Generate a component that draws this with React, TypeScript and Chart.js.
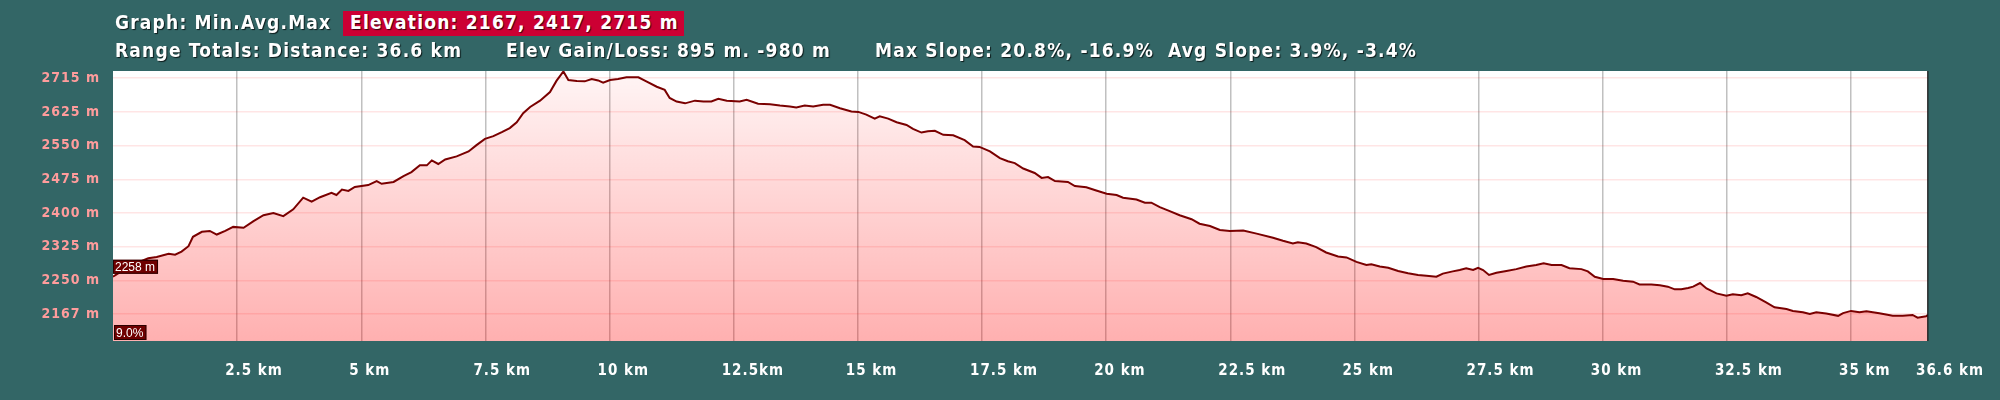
import React, { useEffect, useRef } from 'react';
import { Chart, registerables } from 'chart.js';

Chart.register(...registerables);

const distanceKm = [
  0.0, 0.34, 0.71, 0.88, 1.12, 1.25, 1.38, 1.52, 1.61, 1.79, 1.95, 2.09, 2.26, 2.42, 2.63, 2.83, 3.03, 3.23, 3.43, 3.63,
  3.83, 4.0, 4.17, 4.4, 4.5, 4.61, 4.74, 4.87, 5.14, 5.31, 5.41, 5.65, 5.85, 6.01, 6.18, 6.32, 6.42, 6.55, 6.69, 6.92,
  7.16, 7.32, 7.49, 7.66, 7.83, 7.99, 8.13, 8.26, 8.4, 8.6, 8.8, 8.93, 9.07,
  9.17, 9.34, 9.5, 9.64, 9.77, 9.87, 10.01, 10.17, 10.34, 10.58, 10.74, 10.95, 11.11, 11.21, 11.35, 11.52, 11.72, 11.89,
  12.05, 12.19, 12.36, 12.62, 12.76, 12.99, 13.23, 13.43, 13.63, 13.76, 13.93, 14.1, 14.3, 14.44, 14.64, 14.87, 15.01,
  15.17, 15.34, 15.44, 15.61, 15.78, 15.98, 16.11, 16.28, 16.41, 16.55, 16.72, 16.92, 17.15, 17.32, 17.45, 17.66, 17.86,
  18.02, 18.16, 18.33, 18.56, 18.7, 18.83, 18.97, 19.23, 19.37, 19.6, 19.8, 20.01, 20.21, 20.34, 20.61, 20.78, 20.91,
  21.08, 21.28, 21.48, 21.72, 21.88, 22.09, 22.29, 22.49, 22.76, 23.03, 23.36, 23.56, 23.76, 23.86, 24.03, 24.23, 24.43,
  24.67, 24.84, 25.04, 25.24, 25.34, 25.51, 25.68, 25.88, 26.08, 26.28, 26.45, 26.65, 26.78, 26.98, 27.12, 27.25, 27.39,
  27.49, 27.59, 27.71, 27.86, 28.06, 28.26, 28.46, 28.66, 28.81, 28.97, 29.17, 29.33, 29.57, 29.7, 29.84, 30.01, 30.21,
  30.41, 30.61, 30.74, 30.98, 31.15, 31.31, 31.45, 31.58, 31.72, 31.82, 31.96, 32.09, 32.29, 32.49, 32.62, 32.79, 32.92,
  33.09, 33.29, 33.46, 33.7, 33.83, 34.03, 34.17, 34.3, 34.5, 34.74, 34.84, 35.0, 35.17, 35.31, 35.57, 35.84, 36.04,
  36.24, 36.34, 36.51, 36.55,
];

const elevationM = [
  2258, 2282, 2299, 2302, 2309, 2307, 2314, 2326, 2347, 2358, 2360, 2352, 2360, 2369, 2367, 2382, 2395, 2400, 2393, 2408,
  2434, 2425, 2435, 2445, 2440, 2452, 2449, 2458, 2462, 2471, 2465, 2469, 2482, 2491, 2506, 2506, 2517, 2509, 2519, 2526,
  2537, 2551, 2565, 2571, 2580, 2589, 2602, 2622, 2636, 2650, 2669, 2694, 2715,
  2696, 2694, 2693, 2698, 2695, 2690, 2696, 2698, 2702, 2702, 2693, 2681, 2674, 2656, 2648, 2644, 2650, 2648,
  2648, 2654, 2650, 2648, 2652, 2643, 2642, 2639, 2637, 2635, 2639, 2637, 2641, 2641, 2633, 2626, 2625,
  2619, 2610, 2615, 2610, 2602, 2596, 2587, 2579, 2582, 2583, 2574, 2573, 2562, 2548, 2547, 2537, 2522,
  2515, 2511, 2499, 2489, 2478, 2480, 2471, 2469, 2460, 2457, 2450, 2443, 2440, 2434, 2430, 2423, 2423,
  2413, 2404, 2395, 2386, 2376, 2371, 2362, 2360, 2361, 2354, 2345, 2338, 2332, 2335, 2332, 2324, 2312,
  2303, 2301, 2291, 2284, 2286, 2281, 2278, 2271, 2266, 2262, 2260, 2258, 2265, 2270, 2273, 2277, 2273,
  2278, 2273, 2262, 2267, 2271, 2275, 2281, 2284, 2288, 2284, 2284, 2277, 2275, 2270, 2258, 2253, 2253,
  2249, 2247, 2241, 2241, 2239, 2236, 2230, 2230, 2233, 2236, 2244, 2232, 2221, 2216, 2219, 2217, 2221,
  2213, 2201, 2190, 2186, 2182, 2179, 2175, 2179, 2176, 2171, 2177, 2182, 2179, 2181, 2177, 2171, 2171,
  2173, 2167, 2170, 2173,
];

const xTickValues = [2.5, 5, 7.5, 10, 12.5, 15, 17.5, 20, 22.5, 25, 27.5, 30, 32.5, 35, 36.55];
const xTickLabels = [
  '2.5 km', '5 km', '7.5 km', '10 km', '12.5km', '15 km', '17.5 km', '20 km', '22.5 km', '25 km',
  '27.5 km', '30 km', '32.5 km', '35 km', '36.6 km',
];
const yTickValues = [2175, 2250, 2325, 2400, 2475, 2550, 2625, 2700];
const yTickLabels = ['2167 m', '2250 m', '2325 m', '2400 m', '2475 m', '2550 m', '2625 m', '2715 m'];

const headerTitle = 'Graph: Min.Avg.Max';
const headerBadge = 'Elevation: 2167, 2417, 2715 m';
const headerStats = [
  'Range Totals: Distance: 36.6 km',
  'Elev Gain/Loss: 895 m. -980 m',
  'Max Slope: 20.8%, -16.9%',
  'Avg Slope: 3.9%, -3.4%',
];
const startLabel = '2258 m';
const slopeLabel = '9.0%';

const BG = '#336666';
const FONT = '"DejaVu Sans Condensed", "DejaVu Sans", sans-serif';

const decorPlugin = {
  id: 'decor',
  beforeDraw(chart: any) {
    const { ctx, chartArea: a, width, height } = chart;
    ctx.save();
    ctx.fillStyle = BG;
    ctx.fillRect(0, 0, width, height);
    ctx.fillStyle = '#ffffff';
    ctx.fillRect(a.left, a.top, a.right - a.left, a.bottom - a.top);
    ctx.restore();
    ctx.letterSpacing = '1px';
  },
  afterDraw(chart: any) {
    const { ctx, chartArea: a, scales } = chart;
    ctx.save();
    ctx.letterSpacing = '0px';
    ctx.fillStyle = 'rgba(25,25,25,0.85)';
    ctx.fillRect(a.right - 1, a.top, 1.5, a.bottom - a.top);

    ctx.font = '12px "Liberation Sans", Arial, sans-serif';
    ctx.textBaseline = 'middle';
    ctx.textAlign = 'left';
    const box = (text: string, x: number, y: number, h: number) => {
      const w = ctx.measureText(text).width + 5;
      ctx.fillStyle = '#6e0000';
      ctx.fillRect(x, y, w, h);
      ctx.strokeStyle = '#2a0000';
      ctx.lineWidth = 1;
      ctx.strokeRect(x + 0.5, y + 0.5, w - 1, h - 1);
      ctx.fillStyle = '#ffffff';
      ctx.fillText(text, x + 2, y + h / 2 + 1);
    };
    const y0 = scales.y.getPixelForValue(elevationM[0]);
    box(startLabel, a.left, y0 - 17, 14);
    box(slopeLabel, a.left + 1, a.bottom - 16, 15);
    ctx.restore();
  },
};

export default function App() {
  const ref = useRef<HTMLCanvasElement>(null);

  useEffect(() => {
    document.body.style.margin = '0';
    const points = distanceKm.map((d, i) => ({ x: d, y: elevationM[i] }));
    const chart = new Chart(ref.current as HTMLCanvasElement, {
      type: 'line',
      data: {
        datasets: [
          {
            data: points,
            borderColor: '#7a0000',
            borderWidth: 2,
            pointRadius: 0,
            tension: 0,
            fill: 'start',
            backgroundColor: (c: any) => {
              const ch = c.chart;
              const a = ch.chartArea;
              if (!a) return 'rgba(255,0,0,0.2)';
              const g = ch.ctx.createLinearGradient(0, a.top, 0, a.bottom);
              g.addColorStop(0, 'rgba(255,0,0,0.04)');
              g.addColorStop(1, 'rgba(255,0,0,0.31)');
              return g;
            },
          },
        ],
      },
      options: {
        animation: false,
        responsive: false,
        devicePixelRatio: 1,
        layout: { padding: { top: 71, right: 72, bottom: 0, left: 0 } },
        plugins: { legend: { display: false }, tooltip: { enabled: false }, title: { display: false } },
        scales: {
          x: {
            type: 'linear',
            min: 0,
            max: 36.55,
            afterBuildTicks: (s: any) => {
              s.ticks = xTickValues.map((v) => ({ value: v }));
            },
            afterFit: (s: any) => {
              s.height = 59;
              s.paddingLeft = 0;
              s.paddingRight = 0;
            },
            grid: {
              color: (c: any) => (c.index === xTickValues.length - 1 ? 'rgba(0,0,0,0)' : 'rgba(165,165,165,0.7)'),
              lineWidth: 1.5,
              drawTicks: false,
            },
            border: { display: false },
            ticks: {
              color: '#ffffff',
              font: { family: FONT, size: 15, weight: 'bold' },
              align: 'start',
              labelOffset: -12,
              padding: 21,
              maxRotation: 0,
              autoSkip: false,
              callback: (_v: any, i: number) => xTickLabels[i],
            },
          },
          y: {
            type: 'linear',
            min: 2115,
            max: 2716,
            afterBuildTicks: (s: any) => {
              s.ticks = yTickValues.map((v) => ({ value: v }));
            },
            afterFit: (s: any) => {
              s.width = 113;
              s.paddingTop = 0;
              s.paddingBottom = 0;
            },
            grid: { color: 'rgba(255,0,0,0.1)', lineWidth: 1.5, drawTicks: false },
            border: { display: false },
            ticks: {
              color: '#ff9c9c',
              font: { family: FONT, size: 14, weight: 'bold' },
              padding: 13,
              autoSkip: false,
              callback: (_v: any, i: number) => yTickLabels[i],
            },
          },
        },
      },
      plugins: [decorPlugin],
    } as any);
    return () => chart.destroy();
  }, []);

  const textStyle: React.CSSProperties = {
    position: 'absolute',
    fontFamily: FONT,
    fontWeight: 'bold',
    fontSize: 19,
    lineHeight: '19px',
    letterSpacing: '1.2px',
    color: '#ffffff',
    whiteSpace: 'nowrap',
    textShadow: '1px 1px 1px rgba(0,0,0,0.75)',
  };
  const statX = [115, 506, 875, 1168];

  return (
    <div style={{ position: 'relative', width: 2000, height: 400, background: BG, overflow: 'hidden' }}>
      <canvas
        ref={ref}
        width={2000}
        height={400}
        style={{ position: 'absolute', left: 0, top: 0, width: 2000, height: 400, display: 'block' }}
      />
      <div style={{ ...textStyle, left: 115, top: 13 }}>{headerTitle}</div>
      <div style={{ position: 'absolute', left: 343, top: 11, width: 341, height: 25, background: '#cc0033' }} />
      <div style={{ ...textStyle, left: 350, top: 13 }}>{headerBadge}</div>
      {headerStats.map((t, i) => (
        <div key={i} style={{ ...textStyle, left: statX[i], top: 41 }}>
          {t}
        </div>
      ))}
    </div>
  );
}
